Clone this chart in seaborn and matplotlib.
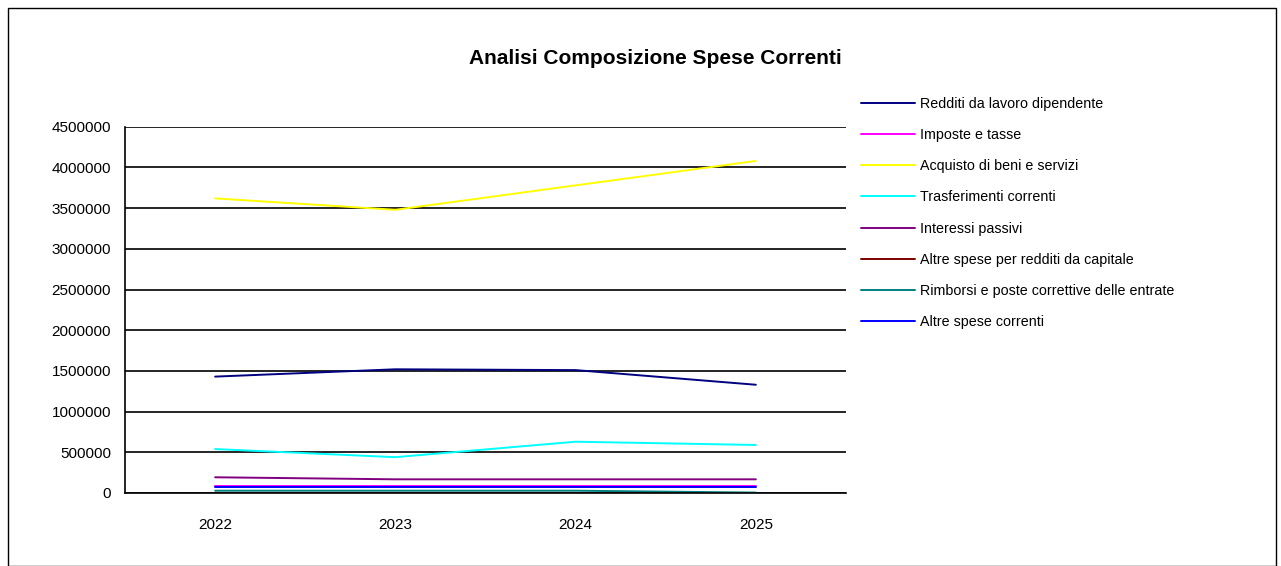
import pandas as pd
import matplotlib.pyplot as plt
import seaborn as sns
import numpy as np

sns.set_style("white")
plt.rcParams['font.family'] = ['Liberation Sans', 'DejaVu Sans']
plt.rcParams['text.color'] = 'black'
plt.rcParams['xtick.color'] = 'black'
plt.rcParams['ytick.color'] = 'black'

# --- data ---
years = ['2022', '2023', '2024', '2025']
series_names = [
    'Redditi da lavoro dipendente',
    'Imposte e tasse',
    'Acquisto di beni e servizi',
    'Trasferimenti correnti',
    'Interessi passivi',
    'Altre spese per redditi da capitale',
    'Rimborsi e poste correttive delle entrate',
    'Altre spese correnti',
]
redditi_lavoro = [1430000, 1520000, 1510000, 1330000]
imposte_tasse = [85000, 85000, 85000, 85000]
acquisto_beni = [3620000, 3480000, 3780000, 4080000]
trasferimenti = [540000, 440000, 630000, 590000]
interessi = [193000, 168000, 168000, 168000]
altre_capitale = [0, 0, 0, 0]
rimborsi = [28000, 28000, 28000, 5000]
altre_correnti = [78000, 78000, 78000, 78000]

colors = ['#000080', '#FF00FF', '#FFFF00', '#00FFFF',
          '#800080', '#800000', '#008080', '#0000FF']

values = [redditi_lavoro, imposte_tasse, acquisto_beni, trasferimenti,
          interessi, altre_capitale, rimborsi, altre_correnti]
rows = []
for name, vals in zip(series_names, values):
    for i, v in enumerate(vals):
        rows.append({'anno': i, 'voce': name, 'importo': v})
df = pd.DataFrame(rows)

fig = plt.figure(figsize=(12.81, 5.66), dpi=100)
ax = fig.add_axes([0.0976, 0.129, 0.5628, 0.647])

sns.lineplot(data=df, x='anno', y='importo', hue='voce', hue_order=series_names,
             palette=colors, linewidth=1.4, ax=ax, legend=True)

ax.set_xlim(-0.5, 3.5)
ax.set_ylim(0, 4500000)
ax.set_yticks(np.arange(0, 4500001, 500000))
ax.set_yticklabels([str(v) for v in range(0, 4500001, 500000)], fontsize=11)
ax.set_xticks(range(4))
ax.set_xticklabels(years, fontsize=11)
ax.tick_params(axis='x', length=0, pad=18)
ax.set_xticks([-0.5, 0.5, 1.5, 2.5, 3.5], minor=True)
ax.tick_params(axis='x', which='minor', length=5, width=1, color='black', direction='out')
ax.tick_params(axis='y', length=5, width=1, color='black', direction='out', pad=5)
ax.set_xlabel('')
ax.set_ylabel('')
ax.yaxis.grid(True, color='black', linewidth=1.2)
ax.set_axisbelow(True)
for s in ['top', 'right']:
    ax.spines[s].set_visible(False)
for s in ['left', 'bottom']:
    ax.spines[s].set_color('black')
    ax.spines[s].set_linewidth(1.2)

fig.text(0.512, 0.897, 'Analisi Composizione Spese Correnti', ha='center', va='center',
         fontsize=15, fontweight='bold', color='black')

leg = ax.legend(loc='upper left', bbox_to_anchor=(0.668, 0.839),
                bbox_transform=fig.transFigure, frameon=False, fontsize=10.3,
                handlelength=3.75, handletextpad=0.35, labelspacing=1.2, borderaxespad=0)
for line in leg.get_lines():
    line.set_linewidth(1.4)
for t in leg.get_texts():
    t.set_color('black')

# outer chart frame
frame = plt.Rectangle((0.006, 0.0), 0.99, 0.986, transform=fig.transFigure,
                      fill=False, edgecolor='black', linewidth=1)
fig.patches.append(frame)

fig.savefig('out.png', dpi=100)
